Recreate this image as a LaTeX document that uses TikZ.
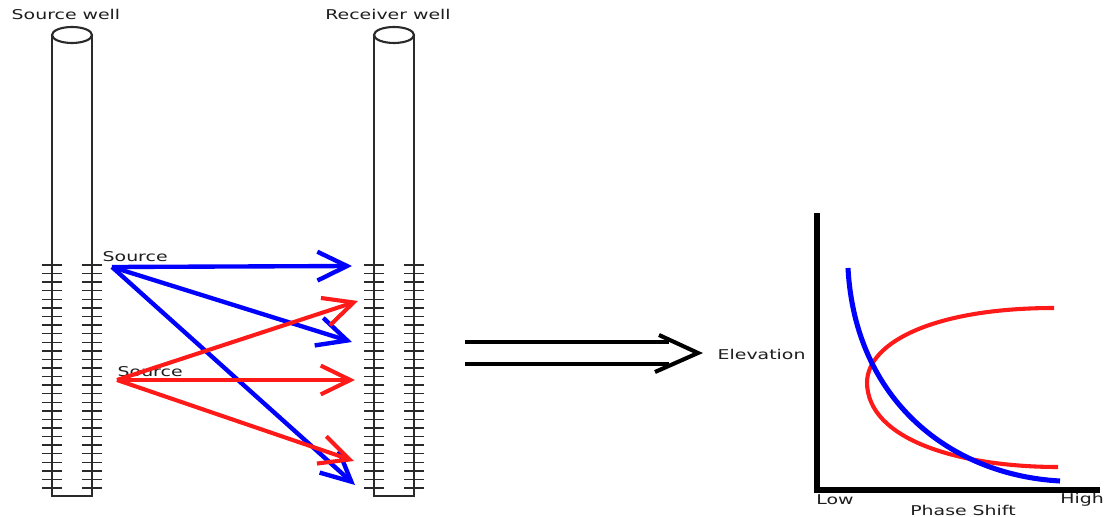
\documentclass[tikz,border=0pt]{standalone}
\usepackage{fontspec}
\newfontfamily\labelfont[FakeStretch=1.4]{DejaVu Sans}
\usetikzlibrary{arrows.meta,calc}
\definecolor{Ink}{HTML}{1E1E1E}
\definecolor{WellGrey}{HTML}{2A2A2A}
\definecolor{RayBlue}{HTML}{0000FF}
\definecolor{RayRed}{HTML}{FF1A1A}
\tikzset{
 txt/.style={font=\labelfont\fontsize{9.6}{11}\selectfont, text=Ink, inner sep=1pt},
 well/.style={draw=WellGrey, line width=1.5pt, fill=white},
 tickmark/.style={draw=WellGrey, line width=1pt},
 ray/.style={-{Straight Barb[length=0.74cm,width=0.72cm]}, line width=3.1pt},
 blueray/.style={ray, draw=RayBlue},
 redray/.style={ray, draw=RayRed, line width=2.9pt},
 bigarrow/.style={draw=black, line width=2.9pt},
 axisline/.style={draw=black, line width=3.6pt},
 curve/.style={line width=2.9pt}
}

\begin{document}
\begin{tikzpicture}[x=0.025cm,y=-0.025cm]
\useasboundingbox[fill=white] (0,0) rectangle (1104,517);

% the two boreholes with their depth marks
\foreach \wx/\wname in {72/Source, 394/Receiver}{
  \draw[well] (\wx-20,35) -- (\wx-20,496) -- (\wx+20,496) -- (\wx+20,35);
  \draw[well] (\wx,35) ellipse (20 and 8);
  \foreach \k in {0,...,26}
    \draw[tickmark] (\wx-30,265+8.58*\k) -- ++(20,0) (\wx+10,265+8.58*\k) -- ++(20,0);
  \node[txt] (\wname) at (\wx-6,14) {\wname\ well};
}

% shot points
\coordinate (s1) at (112,267);
\coordinate (s2) at (117,380);
\node[txt, anchor=west] (src1) at (101,257) {Source};
\node[txt, anchor=west] (src2) at (116,372) {Source};

% arrivals at the receiver well
\coordinate (r1) at (352,266);
\coordinate (r2) at (352,342);
\coordinate (r3) at (355,485);
\coordinate (r4) at (358,301);
\coordinate (r5) at (355,380);
\coordinate (r6) at (354,461);
\foreach \r in {r1,r2,r3}
  \draw[blueray] (s1) -- (\r);
\foreach \r in {r4,r5,r6}
  \draw[redray] (s2) -- (\r);

% implies arrow
\coordinate (imp) at (698,353);
\draw[bigarrow] (465,342) -- (669,342) (465,364) -- (669,364);
\draw[bigarrow] ($(imp)+(-39,-18)$) -- (imp) -- ($(imp)+(-43,19)$);
\node[txt, anchor=west] (elev) at (716,354) {Elevation};

% phase shift plot
\draw[axisline] (817,213) -- (817,490) -- (1100,490);
\node[txt] (low) at (835,500) {Low};
\node[txt] (high) at (1082,500) {High};
\node[txt] (phase) at (963,510) {Phase Shift};
\draw[curve, draw=RayRed] (1054,308) .. controls (935,308) and (868,342) .. (867,382)
  .. controls (867,440) and (960,467) .. (1058,467);
\draw[curve, draw=RayBlue, line width=3.6pt] (848,268) .. controls (855,400) and (950,475) .. (1060,481);
\end{tikzpicture}
\end{document}
